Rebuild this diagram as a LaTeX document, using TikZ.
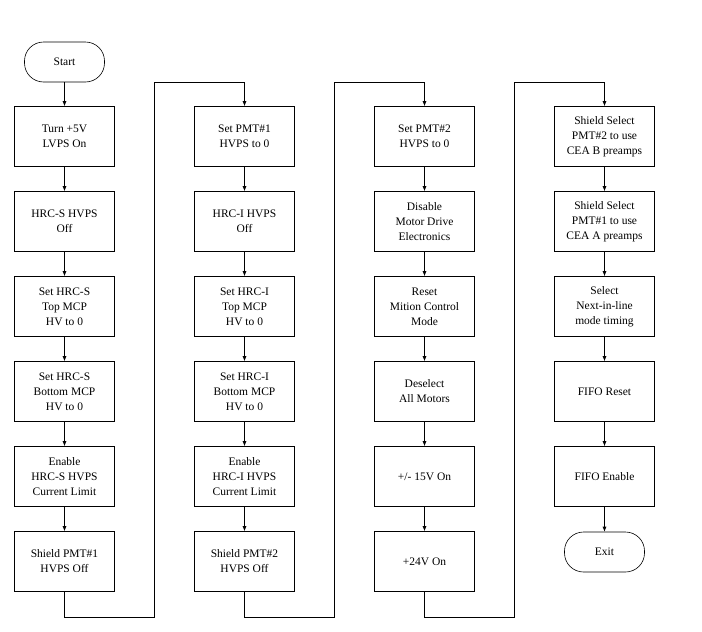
\documentclass[tikz,border=0pt]{standalone}
\usepackage{fontspec}
\setmainfont{Liberation Serif}
\usetikzlibrary{arrows.meta,positioning}

\begin{document}
\begin{tikzpicture}[
  x=1pt, y=-1pt,
  every node/.style={font=\fontsize{11.5}{15}\selectfont},
  box/.style={draw, line width=0.6pt, minimum width=100pt,
              minimum height=60pt, align=center, inner sep=2pt},
  term/.style={draw, line width=0.6pt, rounded corners=19pt,
               minimum width=80pt, minimum height=40pt},
  arr/.style={-{Latex[length=5pt,width=4pt]}, line width=0.6pt},
  ret/.style={line width=0.6pt}
]
\useasboundingbox (0,0) rectangle (702,632);

%% column 1
\node[term] (start) at (64.5,62) {Start};
\node[box] (a1) at (64.5,136.5) {Turn +5V\\LVPS On};
\node[box] (a2) at (64.5,221.5) {HRC-S HVPS\\Off};
\node[box] (a3) at (64.5,306.5) {Set HRC-S\\Top MCP\\HV to 0};
\node[box] (a4) at (64.5,391.5) {Set HRC-S\\Bottom MCP\\HV to 0};
\node[box] (a5) at (64.5,476.5) {Enable\\HRC-S HVPS\\Current Limit};
\node[box] (a6) at (64.5,561.5) {Shield PMT\#1\\HVPS Off};

%% column 2
\node[box] (b1) at (244.5,136.5) {Set PMT\#1\\HVPS to 0};
\node[box] (b2) at (244.5,221.5) {HRC-I HVPS\\Off};
\node[box] (b3) at (244.5,306.5) {Set HRC-I\\Top MCP\\HV to 0};
\node[box] (b4) at (244.5,391.5) {Set HRC-I\\Bottom MCP\\HV to 0};
\node[box] (b5) at (244.5,476.5) {Enable\\HRC-I HVPS\\Current Limit};
\node[box] (b6) at (244.5,561.5) {Shield PMT\#2\\HVPS Off};

%% column 3
\node[box] (c1) at (424.5,136.5) {Set PMT\#2\\HVPS to 0};
\node[box] (c2) at (424.5,221.5) {Disable\\Motor Drive\\Electronics};
\node[box] (c3) at (424.5,306.5) {Reset\\Mition Control\\Mode};
\node[box] (c4) at (424.5,391.5) {Deselect\\All Motors};
\node[box] (c5) at (424.5,476.5) {+/- 15V On};
\node[box] (c6) at (424.5,561.5) {+24V On};

%% column 4
\node[box] (d1) at (604.5,136.5) {Shield Select\\PMT\#2 to use\\CEA B preamps};
\node[box] (d2) at (604.5,221.5) {Shield Select\\PMT\#1 to use\\CEA A preamps};
\node[box] (d3) at (604.5,306.5) {Select\\Next-in-line\\mode timing};
\node[box] (d4) at (604.5,391.5) {FIFO Reset};
\node[box] (d5) at (604.5,476.5) {FIFO Enable};
\node[term] (exit) at (604.5,552) {Exit};

%% flow inside columns
\foreach \a/\b in {start/a1, a1/a2, a2/a3, a3/a4, a4/a5, a5/a6,
                   b1/b2, b2/b3, b3/b4, b4/b5, b5/b6,
                   c1/c2, c2/c3, c3/c4, c4/c5, c5/c6,
                   d1/d2, d2/d3, d3/d4, d4/d5, d5/exit}
  \draw[arr] (\a.south) -- (\b.north);

%% return lines between columns
\coordinate (lo1) at (154.5,617);
\coordinate (hi1) at (154.5,82);
\coordinate (lo2) at (334.5,617);
\coordinate (hi2) at (334.5,82);
\coordinate (lo3) at (514.5,617);
\coordinate (hi3) at (514.5,82);

\draw[arr] (a6.south) |- (lo1) -- (hi1) -| (b1.north);
\draw[arr] (b6.south) |- (lo2) -- (hi2) -| (c1.north);
\draw[arr] (c6.south) |- (lo3) -- (hi3) -| (d1.north);

\end{tikzpicture}
\end{document}
